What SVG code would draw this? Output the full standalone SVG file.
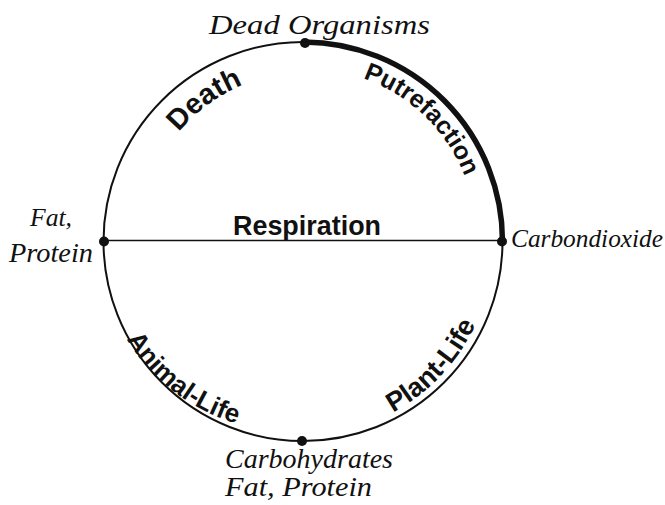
<svg xmlns="http://www.w3.org/2000/svg" width="665" height="505" viewBox="0 0 665 505">
<style>
.hand{font-family:"Liberation Serif","DejaVu Serif",serif;font-style:italic;fill:#111}
.bold{font-family:"Liberation Sans","DejaVu Sans",sans-serif;font-weight:bold;fill:#111}
.ln{fill:none;stroke:#111}
</style>
<defs>
<path id="pDeath" d="M 163.7 153.2 A 168 168 0 0 1 267.5 76.8"/>
<path id="pPutre" d="M 354.5 75.5 A 170 170 0 0 1 467.8 184.7"/>
<path id="pAnimal" d="M 124.5 335.5 A 194 194 0 0 0 240.4 424.8"/>
<path id="pPlant" d="M 375.3 421.0 A 193 193 0 0 0 483.1 306.1"/>
</defs>
<rect width="665" height="505" fill="#fff"/>
<g id="connectors">
<circle class="ln" cx="303" cy="241.5" r="199.5" stroke-width="2"/>
<path class="ln" d="M 304 42 A 199.5 199.5 0 0 1 502.5 241.5" stroke-width="5.5"/>
<line class="ln" x1="104" y1="240.5" x2="502" y2="240.5" stroke-width="1.6"/>
</g>
<g id="dead-organisms">
<circle cx="305" cy="43" r="5" fill="#111"/>
<text class="hand" x="209" y="34" font-size="28" textLength="221" lengthAdjust="spacingAndGlyphs">Dead Organisms</text>
</g>
<g id="carbondioxide">
<circle cx="502" cy="241.5" r="5" fill="#111"/>
<text class="hand" x="511" y="247" font-size="25" textLength="152" lengthAdjust="spacingAndGlyphs">Carbondioxide</text>
</g>
<g id="carbohydrates">
<circle cx="302" cy="441" r="5" fill="#111"/>
<text class="hand" x="225" y="468" font-size="27" textLength="168" lengthAdjust="spacingAndGlyphs">Carbohydrates</text>
<text class="hand" x="225" y="496" font-size="27" textLength="147" lengthAdjust="spacingAndGlyphs">Fat, Protein</text>
</g>
<g id="fat-protein">
<circle cx="104" cy="241.5" r="5" fill="#111"/>
<text class="hand" x="30" y="226" font-size="26" textLength="42" lengthAdjust="spacingAndGlyphs">Fat,</text>
<text class="hand" x="9" y="262" font-size="27" textLength="84" lengthAdjust="spacingAndGlyphs">Protein</text>
</g>
<g id="respiration">
<text class="bold" x="307" y="235" font-size="27" text-anchor="middle" textLength="148" lengthAdjust="spacingAndGlyphs">Respiration</text>
</g>
<g id="death">
<text class="bold" font-size="29"><textPath href="#pDeath" startOffset="50%" text-anchor="middle">Death</textPath></text>
</g>
<g id="putrefaction">
<text class="bold" font-size="25"><textPath href="#pPutre" startOffset="50%" text-anchor="middle">Putrefaction</textPath></text>
</g>
<g id="animal-life">
<text class="bold" font-size="26"><textPath href="#pAnimal" startOffset="50%" text-anchor="middle">Animal-Life</textPath></text>
</g>
<g id="plant-life">
<text class="bold" font-size="27"><textPath href="#pPlant" startOffset="50%" text-anchor="middle">Plant-Life</textPath></text>
</g>
</svg>
